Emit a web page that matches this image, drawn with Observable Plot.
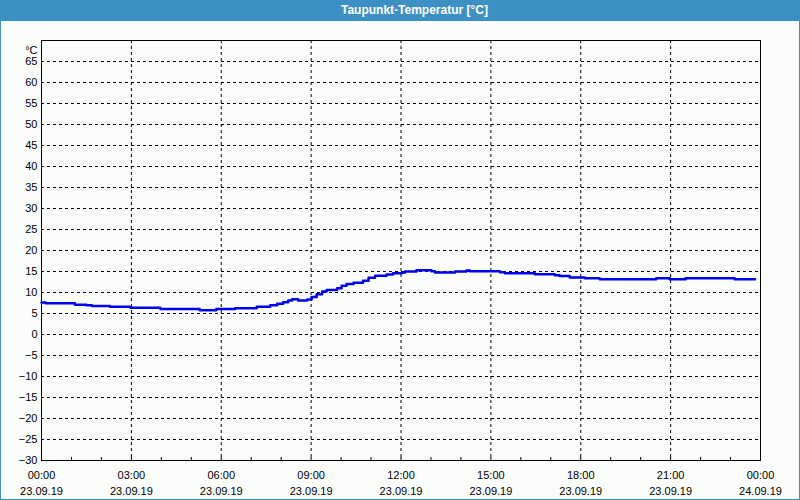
<!DOCTYPE html>
<html><head><meta charset="utf-8">
<script src="https://cdn.jsdelivr.net/npm/d3@7"></script>
<script src="https://cdn.jsdelivr.net/npm/@observablehq/plot@0.6"></script>
<style>
body{margin:0;background:#fff;}
#wrap{position:relative;width:800px;height:500px;background:#fbfdfb;overflow:hidden;font-family:"Liberation Sans",Arial,sans-serif;}
#title{position:absolute;left:0;top:0;width:800px;height:21px;box-sizing:border-box;padding-left:29px;background:#3d90c4;color:#fff;font-family:"Liberation Sans Narrow","Liberation Sans",sans-serif;font-weight:bold;font-size:12px;text-align:center;line-height:21px;}
#chart{position:absolute;left:0;top:21px;}
#border{position:absolute;left:0;top:0;width:800px;height:500px;box-sizing:border-box;border:1px solid #3d90c4;pointer-events:none;}
</style>
</head><body>
<div id="wrap">
  <div id="title">Taupunkt-Temperatur [°C]</div>
  <div id="chart"></div>
  <div id="border"></div>
</div>
<script>
// Data: time of day (23.09.2019) and dew point temperature in °C
const times = ["00:00","00:08","01:07","01:30","01:41","02:17","02:58","03:58","05:17","05:50",
  "06:28","07:11","07:38","07:52","08:04","08:14","08:22","08:34","08:52","09:01",
  "09:11","09:22","09:31","09:52","10:01","10:11","10:25","10:44","10:55","11:08",
  "11:31","11:44","12:02","12:08","12:31","13:01","13:08","13:48","14:11","14:18",
  "15:18","15:28","16:28","17:08","17:18","17:38","18:08","18:38","20:31","20:58",
  "21:30","23:08","23:49"];
const values = [7.6,7.45,7.1,6.97,6.8,6.6,6.35,6.1,5.8,6.1,
  6.26,6.6,6.97,7.3,7.7,8.1,8.4,8.1,8.33,8.9,
  9.6,10.24,10.6,11.0,11.6,12.0,12.3,12.8,13.5,14.0,
  14.3,14.6,14.76,15.0,15.3,15.07,14.76,15.0,15.25,15.07,
  14.8,14.6,14.36,14.1,13.9,13.6,13.4,13.17,13.4,13.17,
  13.4,13.17,13.17];
const yTicks = [-30,-25,-20,-15,-10,-5,0,5,10,15,20,25,30,35,40,45,50,55,60,65];
const yDomain = [-30,70];
const xTickHours = [0,3,6,9,12,15,18,21,24];
const unitLabel = "°C";

const day = Date.UTC(2019, 8, 23);
const toDate = (s) => { const [h, m] = s.split(":").map(Number); return new Date(day + (h*60 + m)*60000); };
const data = times.map((t, i) => ({time: toDate(t), value: values[i]}));
const xTicks = xTickHours.map(h => new Date(day + h*3600000));
const hourTicks = d3.range(1, 24).map(h => new Date(day + h*3600000));
const fmtTime = d3.utcFormat("%H:%M"), fmtDate = d3.utcFormat("%d.%m.%y");

const chart = Plot.plot({
  width: 800, height: 479,
  marginTop: 19, marginBottom: 40, marginLeft: 41, marginRight: 40,
  style: {fontFamily: "'Liberation Sans', Arial, sans-serif", fontSize: "11px", color: "#000", background: "transparent", overflow: "visible"},
  x: {type: "utc", domain: [xTicks[0], xTicks[xTicks.length-1]], label: null},
  y: {domain: yDomain, label: null},
  marks: [
    Plot.gridX(xTicks.slice(1, -1), {stroke: "#000", strokeOpacity: 1, strokeDasharray: "3,3"}),
    Plot.gridY(yTicks.slice(1), {stroke: "#000", strokeOpacity: 1, strokeDasharray: "3,3"}),
    Plot.tickX(hourTicks, {x: d => d, insetTop: 417, stroke: "#000"}),
    Plot.frame({stroke: "#000"}),
    Plot.line(data, {x: "time", y: "value", curve: "step-after", stroke: "#0000f0", strokeWidth: 2.5}),
    Plot.axisY({ticks: yTicks, tickSize: 0, tickPadding: 4, fill: "#000", label: null}),
    Plot.axisX({ticks: xTicks, tickSize: 0, tickPadding: 7, lineHeight: 1.45, fill: "#000", label: null,
      tickFormat: d => fmtTime(d) + "\n" + fmtDate(d)}),
    Plot.text([unitLabel], {frameAnchor: "top-left", textAnchor: "end", dx: -4, dy: 6, fill: "#000"})
  ]
});
document.getElementById("chart").appendChild(chart);
</script>
</body></html>
